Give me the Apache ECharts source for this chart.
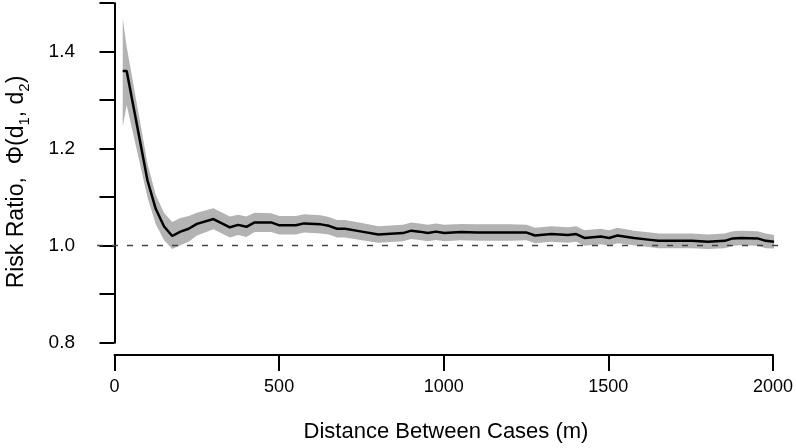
<!DOCTYPE html>
<html>
<head>
<meta charset="utf-8">
<script src="https://cdn.jsdelivr.net/npm/echarts@6/dist/echarts.min.js"></script>
<style>
  html, body { margin: 0; padding: 0; background: #fff; }
  #chart { width: 796px; height: 448px; }
</style>
</head>
<body>
<div id="chart"></div>
<script>
// distance between cases (m)
const distance = [25, 37, 100, 125, 150, 175, 200, 225, 250, 300, 350, 375, 400, 425, 475, 500, 550, 575, 625, 650,
  675, 700, 750, 800, 850, 875, 900, 925, 950, 975, 1000, 1050, 1100, 1150, 1200, 1250, 1275, 1325, 1375, 1400,
  1425, 1475, 1500, 1525, 1575, 1625, 1650, 1700, 1750, 1800, 1850, 1875, 1900, 1950, 1975, 2000];
// risk ratio estimate
const ratio = [1.360, 1.360, 1.135, 1.076, 1.040, 1.020, 1.029, 1.035, 1.045, 1.055, 1.038, 1.043, 1.039, 1.048, 1.048, 1.042, 1.042, 1.046, 1.044, 1.041,
  1.035, 1.035, 1.029, 1.023, 1.025, 1.026, 1.031, 1.029, 1.026, 1.029, 1.026, 1.028, 1.027, 1.027, 1.027, 1.027, 1.021, 1.024, 1.022, 1.024,
  1.016, 1.019, 1.016, 1.021, 1.016, 1.012, 1.010, 1.010, 1.010, 1.008, 1.010, 1.015, 1.016, 1.015, 1.010, 1.008];
// confidence band
const upper = [1.469, 1.410, 1.170, 1.105, 1.068, 1.049, 1.057, 1.061, 1.068, 1.077, 1.060, 1.064, 1.060, 1.068, 1.067, 1.061, 1.061, 1.065, 1.063, 1.059,
  1.053, 1.053, 1.047, 1.040, 1.042, 1.043, 1.048, 1.046, 1.043, 1.046, 1.043, 1.045, 1.044, 1.044, 1.044, 1.043, 1.037, 1.040, 1.038, 1.040,
  1.032, 1.035, 1.032, 1.037, 1.031, 1.027, 1.025, 1.025, 1.025, 1.023, 1.025, 1.030, 1.031, 1.030, 1.025, 1.022];
const lower = [1.245, 1.290, 1.100, 1.045, 1.012, 0.993, 1.001, 1.008, 1.021, 1.034, 1.017, 1.022, 1.018, 1.028, 1.028, 1.023, 1.023, 1.027, 1.025, 1.023,
  1.017, 1.017, 1.011, 1.006, 1.008, 1.009, 1.014, 1.012, 1.009, 1.012, 1.009, 1.011, 1.010, 1.010, 1.010, 1.011, 1.005, 1.008, 1.006, 1.008,
  1.000, 1.003, 1.000, 1.005, 1.001, 0.997, 0.995, 0.995, 0.995, 0.993, 0.995, 1.000, 1.001, 1.000, 0.995, 0.994];

const FONT = "'Liberation Sans', Arial, sans-serif";

const chart = echarts.init(document.getElementById("chart"), null, { renderer: "canvas" });

// confidence band drawn as one polygon through the axis scales
const renderBand = (params, api) => {
  if (params.dataIndex !== 0) return null;
  const pts = [];
  for (let i = 0; i < distance.length; i += 1) pts.push(api.coord([distance[i], upper[i]]));
  for (let i = distance.length - 1; i >= 0; i -= 1) pts.push(api.coord([distance[i], lower[i]]));
  return {
    type: "polygon",
    shape: { points: pts },
    style: { fill: "#b3b3b3", stroke: "none" },
  };
};

const option = {
  backgroundColor: "#fff",
  animation: false,
  grid: [
    // plot region
    { left: 97, top: 3.2, width: 683, height: 339.5, containLabel: false },
    // detached x axis
    { left: 114.5, top: 0, width: 659.5, height: 355, containLabel: false },
  ],
  xAxis: [
    { gridIndex: 0, type: "value", min: -53, max: 2018, show: false },
    {
      gridIndex: 1,
      type: "value",
      min: 0,
      max: 2000,
      interval: 500,
      position: "bottom",
      axisLine: { show: true, lineStyle: { color: "#000", width: 2 } },
      axisTick: { show: true, length: 16, lineStyle: { color: "#000", width: 2 } },
      axisLabel: { margin: 23, fontSize: 18, color: "#000", fontFamily: FONT, formatter: (v) => String(v) },
      splitLine: { show: false },
    },
  ],
  yAxis: [
    {
      gridIndex: 0,
      type: "value",
      min: 0.8,
      max: 1.5,
      interval: 0.1,
      axisLine: { show: true, lineStyle: { color: "#000", width: 2 } },
      axisTick: { show: true, length: 15, lineStyle: { color: "#000", width: 2 } },
      axisLabel: {
        margin: 22,
        fontSize: 19,
        color: "#000",
        fontFamily: FONT,
        formatter: (v) => (Math.round(v * 10) % 2 === 0 ? v.toFixed(1) : ""),
      },
      splitLine: { show: false },
    },
    { gridIndex: 1, type: "value", min: 0, max: 1, show: false },
  ],
  graphic: [
    {
      type: "text",
      x: 17,
      y: 182,
      rotation: Math.PI / 2,
      style: {
        text: "{a|Risk Ratio,  Φ(d}{s|1}{a|, d}{s|2}{a|)}",
        align: "center",
        verticalAlign: "middle",
        fill: "#000",
        rich: {
          a: { fontSize: 23, fontFamily: FONT, lineHeight: 30, verticalAlign: "middle", fill: "#000" },
          s: { fontSize: 15, fontFamily: FONT, lineHeight: 15, verticalAlign: "bottom", fill: "#000" },
        },
      },
    },
    {
      type: "text",
      x: 446,
      y: 432,
      style: {
        text: "Distance Between Cases (m)",
        font: "22px " + FONT,
        align: "center",
        verticalAlign: "middle",
        fill: "#000",
      },
    },
  ],
  series: [
    {
      name: "band",
      type: "custom",
      xAxisIndex: 0,
      yAxisIndex: 0,
      renderItem: renderBand,
      data: distance.map((d, i) => [d, lower[i], upper[i]]),
      encode: { x: 0, y: [1, 2] },
      z: 1,
    },
    {
      name: "ref",
      type: "line",
      xAxisIndex: 0,
      yAxisIndex: 0,
      symbol: "none",
      data: [],
      markLine: {
        silent: true,
        symbol: "none",
        label: { show: false },
        lineStyle: { color: "#444", width: 1.3, type: [6, 9] },
        data: [{ yAxis: 1 }],
      },
      z: 2,
    },
    {
      name: "ratio",
      type: "line",
      xAxisIndex: 0,
      yAxisIndex: 0,
      symbol: "none",
      lineStyle: { color: "#000", width: 2.5 },
      data: distance.map((d, i) => [d, ratio[i]]),
      z: 3,
    },
  ],
};

chart.setOption(option);
</script>
</body>
</html>
